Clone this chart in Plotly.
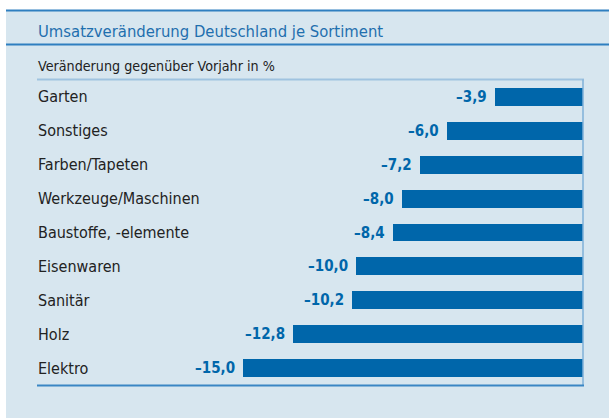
import plotly.graph_objects as go

categories = ["Garten", "Sonstiges", "Farben/Tapeten", "Werkzeuge/Maschinen",
              "Baustoffe, -elemente", "Eisenwaren", "Sanitär", "Holz", "Elektro"]
values = [-3.9, -6.0, -7.2, -8.0, -8.4, -10.0, -10.2, -12.8, -15.0]
value_labels = ["–3,9", "–6,0", "–7,2", "–8,0", "–8,4", "–10,0", "–10,2", "–12,8", "–15,0"]
title_text = "Umsatzveränderung Deutschland je Sortiment"
subtitle_text = "Veränderung gegenüber Vorjahr in %"

W, H = 609, 418
BAR = "#0066aa"
BG = "#d7e6ef"
FONT = "Liberation Sans Narrow, DejaVu Sans Condensed, Arial Narrow, sans-serif"

def px(x):
    return x / W

def py(y):
    return 1 - y / H

x0, x1 = 37, 583
y_top, y_bot = 79, 386
ppu = 340 / 15.0
xmin = -(x1 - x0) / ppu

idx = list(range(len(categories)))

fig = go.Figure()
fig.add_trace(go.Bar(
    x=values, y=idx, orientation="h", marker=dict(color=BAR, line=dict(width=0)),
    width=0.53, hoverinfo="skip"))

shapes = [
    dict(type="rect", xref="paper", yref="paper", x0=px(6), x1=1, y0=0, y1=py(10.5),
         fillcolor=BG, line=dict(width=0), layer="below"),
    dict(type="line", xref="paper", yref="paper", x0=px(6), x1=1, y0=py(10.5), y1=py(10.5),
         line=dict(color="#2f7fc0", width=2)),
    dict(type="line", xref="paper", yref="paper", x0=px(6), x1=1, y0=py(44.5), y1=py(44.5),
         line=dict(color="#2f7fc0", width=2)),
    dict(type="line", xref="paper", yref="paper", x0=px(x0), x1=px(x1 + 1), y0=py(79.5), y1=py(79.5),
         line=dict(color="#9fc3e0", width=2)),
    dict(type="line", xref="paper", yref="paper", x0=px(x1), x1=px(x1), y0=py(79.5), y1=py(385.5),
         line=dict(color="#7fb0d8", width=1.5)),
    dict(type="line", xref="paper", yref="paper", x0=px(x0), x1=px(x1 + 1), y0=py(385.5), y1=py(385.5),
         line=dict(color="#3a86c4", width=2)),
]

annotations = [
    dict(text=title_text, xref="paper", yref="paper", x=px(36), y=py(31), xanchor="left",
         yanchor="middle", showarrow=False, font=dict(family=FONT, size=16.5, color="#1f6fae")),
    dict(text=subtitle_text, xref="paper", yref="paper", x=px(36), y=py(66), xanchor="left",
         yanchor="middle", showarrow=False, font=dict(family=FONT, size=14.2, color="#222222")),
]
for i, (c, v, lab) in enumerate(zip(categories, values, value_labels)):
    annotations.append(dict(text=c, xref="paper", yref="y", x=px(36), y=i, xanchor="left",
                            yanchor="middle", showarrow=False,
                            font=dict(family=FONT, size=16, color="#222222")))
    annotations.append(dict(text="<b>" + lab + "</b>", xref="x", yref="y", x=v, y=i,
                            xanchor="right", yanchor="middle", xshift=-6, showarrow=False,
                            font=dict(family=FONT, size=15, color=BAR)))

fig.update_layout(
    width=W, height=H, margin=dict(l=0, r=0, t=0, b=0),
    paper_bgcolor="white", plot_bgcolor="rgba(0,0,0,0)",
    showlegend=False, bargap=0,
    xaxis=dict(domain=[px(x0), px(x1)], range=[xmin, 0], showgrid=False, zeroline=False,
               showticklabels=False, showline=False, fixedrange=True),
    yaxis=dict(domain=[py(y_bot), py(y_top)], range=[8.53, -0.53], showgrid=False,
               zeroline=False, showticklabels=False, showline=False, fixedrange=True),
    shapes=shapes, annotations=annotations,
)

fig.write_html("out.html", config={"displayModeBar": False},
               post_script="document.body.style.margin='0';")
